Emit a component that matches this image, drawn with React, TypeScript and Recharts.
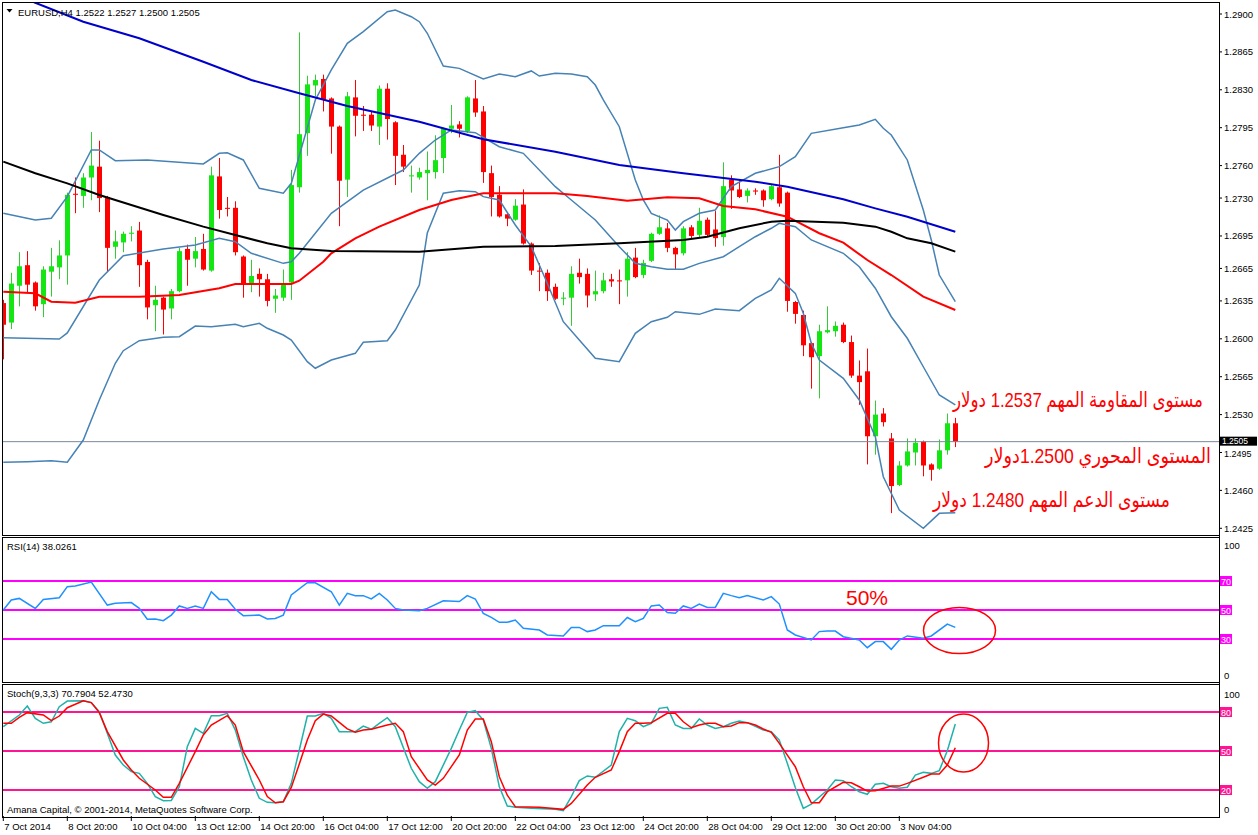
import React from 'react';
import { ComposedChart, Bar, Line, XAxis, YAxis, ReferenceLine } from 'recharts';

// ---------------- DATA ----------------
const timeLabels = ['7 Oct 2014', '8 Oct 20:00', '10 Oct 04:00', '13 Oct 12:00', '14 Oct 20:00', '16 Oct 04:00', '17 Oct 12:00', '20 Oct 20:00', '22 Oct 04:00', '23 Oct 12:00', '24 Oct 20:00', '28 Oct 04:00', '29 Oct 12:00', '30 Oct 20:00', '3 Nov 04:00'];
const timeTickBars = [0, 8, 16, 24, 32, 40, 48, 56, 64, 72, 80, 88, 96, 104, 112];

const priceTicks = [1.29, 1.2865, 1.283, 1.2795, 1.276, 1.273, 1.2695, 1.2665, 1.2635, 1.26, 1.2565, 1.253, 1.2495, 1.246, 1.2425];
const lastPrice = 1.2505;

const opens = [1.2633, 1.2615, 1.2649, 1.2668, 1.2652, 1.2632, 1.2662, 1.2666, 1.2677, 1.2734, 1.2732, 1.2749, 1.2759, 1.2731, 1.2685, 1.2689, 1.2697, 1.2700, 1.2671, 1.2631, 1.2638, 1.2628, 1.2644, 1.2683, 1.2674, 1.2683, 1.2663, 1.2750, 1.2721, 1.2721, 1.2676, 1.2651, 1.2660, 1.2655, 1.2637, 1.2638, 1.2652, 1.2740, 1.2790, 1.2834, 1.2840, 1.2822, 1.2796, 1.2747, 1.2823, 1.2807, 1.2807, 1.2796, 1.2831, 1.2800, 1.2770, 1.2750, 1.2749, 1.2753, 1.2754, 1.2767, 1.2794, 1.2798, 1.2792, 1.2822, 1.2810, 1.2753, 1.2733, 1.2715, 1.2710, 1.2724, 1.2688, 1.2663, 1.2661, 1.2648, 1.2637, 1.2638, 1.2661, 1.2660, 1.2641, 1.2644, 1.2655, 1.2654, 1.2654, 1.2675, 1.2659, 1.2672, 1.2697, 1.2702, 1.2684, 1.2679, 1.2703, 1.2696, 1.2710, 1.2701, 1.2694, 1.2747, 1.2738, 1.2732, 1.2737, 1.2737, 1.2729, 1.2740, 1.2735, 1.2634, 1.2622, 1.2596, 1.2584, 1.2606, 1.2607, 1.2613, 1.2597, 1.2566, 1.2570, 1.2510, 1.2531, 1.2508, 1.2465, 1.2483, 1.2495, 1.2505, 1.2484, 1.2480, 1.2497, 1.2522];
const highs = [1.2636, 1.2661, 1.2680, 1.2681, 1.2653, 1.2667, 1.2684, 1.2691, 1.2735, 1.2749, 1.2753, 1.2791, 1.2783, 1.2732, 1.2700, 1.2699, 1.2704, 1.2708, 1.2673, 1.2649, 1.2639, 1.2646, 1.2684, 1.2687, 1.2694, 1.2697, 1.2759, 1.2767, 1.2731, 1.2727, 1.2677, 1.2673, 1.2665, 1.2660, 1.2646, 1.2664, 1.2756, 1.2883, 1.2843, 1.2844, 1.2844, 1.2823, 1.2797, 1.2828, 1.2839, 1.2815, 1.2810, 1.2834, 1.2836, 1.2801, 1.2779, 1.2760, 1.2758, 1.2773, 1.2788, 1.2795, 1.2816, 1.2801, 1.2824, 1.2839, 1.2815, 1.2760, 1.2741, 1.2717, 1.2729, 1.2738, 1.2689, 1.2670, 1.2664, 1.2651, 1.2643, 1.2667, 1.2674, 1.2665, 1.2663, 1.2661, 1.2660, 1.2664, 1.2680, 1.2684, 1.2673, 1.2698, 1.2714, 1.2707, 1.2685, 1.2704, 1.2705, 1.2721, 1.2712, 1.2718, 1.2763, 1.2751, 1.2747, 1.2739, 1.2739, 1.2738, 1.2742, 1.2770, 1.2736, 1.2635, 1.2626, 1.2597, 1.2613, 1.2630, 1.2616, 1.2615, 1.2603, 1.2580, 1.2591, 1.2543, 1.2536, 1.2513, 1.2487, 1.2508, 1.2508, 1.2506, 1.2485, 1.2507, 1.2531, 1.2527];
const lows = [1.2581, 1.2609, 1.2630, 1.2643, 1.2626, 1.2620, 1.2639, 1.2655, 1.2650, 1.2716, 1.2721, 1.2728, 1.2717, 1.2662, 1.2674, 1.2680, 1.2690, 1.2648, 1.2618, 1.2607, 1.2604, 1.2618, 1.2643, 1.2649, 1.2666, 1.2663, 1.2662, 1.2711, 1.2713, 1.2677, 1.2638, 1.2643, 1.2639, 1.2630, 1.2624, 1.2635, 1.2636, 1.2735, 1.2769, 1.2824, 1.2810, 1.2771, 1.2704, 1.2731, 1.2787, 1.2792, 1.2792, 1.2779, 1.2784, 1.2742, 1.2754, 1.2735, 1.2747, 1.2728, 1.2748, 1.2753, 1.2790, 1.2786, 1.2790, 1.2805, 1.2744, 1.2713, 1.2712, 1.2704, 1.2709, 1.2687, 1.2659, 1.2644, 1.2635, 1.2636, 1.2631, 1.2612, 1.2651, 1.2629, 1.2635, 1.2642, 1.2648, 1.2632, 1.2639, 1.2656, 1.2656, 1.2671, 1.2696, 1.2680, 1.2664, 1.2677, 1.2693, 1.2694, 1.2694, 1.2685, 1.2686, 1.2720, 1.2730, 1.2726, 1.2733, 1.2722, 1.2728, 1.2722, 1.2625, 1.2614, 1.2584, 1.2554, 1.2545, 1.2605, 1.2602, 1.2596, 1.2564, 1.2539, 1.2484, 1.2493, 1.2519, 1.2439, 1.2464, 1.2482, 1.2483, 1.2473, 1.2469, 1.2479, 1.2493, 1.2500];
const closes = [1.2613, 1.2651, 1.2667, 1.2650, 1.2630, 1.2664, 1.2667, 1.2677, 1.2733, 1.2733, 1.2749, 1.2760, 1.2730, 1.2684, 1.2690, 1.2697, 1.2698, 1.2668, 1.2629, 1.2636, 1.2627, 1.2644, 1.2681, 1.2673, 1.2681, 1.2664, 1.2751, 1.2719, 1.2720, 1.2680, 1.2651, 1.2658, 1.2655, 1.2635, 1.2640, 1.2651, 1.2742, 1.2789, 1.2835, 1.2839, 1.2821, 1.2796, 1.2746, 1.2824, 1.2806, 1.2806, 1.2797, 1.2831, 1.2803, 1.2769, 1.2759, 1.2751, 1.2754, 1.2756, 1.2765, 1.2794, 1.2797, 1.2794, 1.2823, 1.2809, 1.2754, 1.2731, 1.2713, 1.2711, 1.2723, 1.2688, 1.2663, 1.2662, 1.2644, 1.2637, 1.2638, 1.2660, 1.2657, 1.2640, 1.2644, 1.2654, 1.2653, 1.2653, 1.2674, 1.2657, 1.2670, 1.2697, 1.2703, 1.2684, 1.2678, 1.2702, 1.2695, 1.2709, 1.2696, 1.2693, 1.2741, 1.2737, 1.2731, 1.2737, 1.2736, 1.2728, 1.2741, 1.2725, 1.2635, 1.2623, 1.2594, 1.2583, 1.2607, 1.2608, 1.2612, 1.2597, 1.2566, 1.2560, 1.2510, 1.2530, 1.2523, 1.2464, 1.2483, 1.2496, 1.2504, 1.2483, 1.2479, 1.2497, 1.2522, 1.2505];

// Indicator lines: [bar index, value] read at the visible vertices
const maBlue: [number, number][] = [[0, 1.29222], [4, 1.29104], [10, 1.28929], [17, 1.28776], [25, 1.28559], [31, 1.2839], [37, 1.28268], [43, 1.2815], [52, 1.28005], [60, 1.27843], [69, 1.27728], [77, 1.27605], [85, 1.27529], [94, 1.27451], [98, 1.27405], [105, 1.27289], [109, 1.27205], [113, 1.27128], [119, 1.26989]];
const maBlack: [number, number][] = [[0, 1.27636], [4, 1.27529], [8, 1.27436], [12, 1.27328], [16, 1.27236], [20, 1.27144], [25, 1.27036], [29, 1.26959], [33, 1.26882], [36, 1.26836], [41, 1.26811], [52, 1.26805], [60, 1.26851], [69, 1.26857], [77, 1.26882], [85, 1.26913], [88, 1.26943], [92, 1.27021], [96, 1.27082], [98, 1.27091], [105, 1.27072], [109, 1.27036], [111, 1.26989], [113, 1.26928], [116, 1.26882], [119, 1.26805]];
const maRed: [number, number][] = [[0, 1.26435], [4, 1.2642], [6, 1.26343], [9, 1.26334], [12, 1.26389], [17, 1.26389], [22, 1.26405], [27, 1.26467], [29, 1.26506], [36, 1.26506], [37, 1.26537], [40, 1.26712], [41, 1.2679], [44, 1.26928], [47, 1.27036], [52, 1.2719], [56, 1.27282], [60, 1.27344], [69, 1.27344], [73, 1.27319], [78, 1.27276], [83, 1.27307], [87, 1.27298], [90, 1.27227], [94, 1.27196], [98, 1.27128], [102, 1.26975], [105, 1.26888], [108, 1.26728], [111, 1.26589], [115, 1.26389], [119, 1.26266]];
const bbUpper: [number, number][] = [[0, 1.27159], [4, 1.27097], [6, 1.27113], [8, 1.27313], [11, 1.27744], [12, 1.27744], [14, 1.27645], [18, 1.27652], [25, 1.27615], [27, 1.27713], [28, 1.27719], [30, 1.27652], [32, 1.2739], [35, 1.27344], [36, 1.27436], [39, 1.28206], [41, 1.28483], [43, 1.28729], [45, 1.28837], [48, 1.29021], [49, 1.29037], [51, 1.28975], [52, 1.28929], [53, 1.28822], [55, 1.2852], [57, 1.28498], [60, 1.284], [62, 1.28446], [64, 1.28421], [66, 1.28474], [67, 1.28427], [69, 1.28452], [71, 1.28446], [73, 1.28421], [74, 1.28344], [75, 1.28206], [77, 1.27959], [79, 1.27467], [80, 1.27282], [81, 1.27159], [83, 1.27097], [84, 1.27005], [85, 1.27082], [87, 1.27159], [89, 1.2719], [91, 1.27405], [94, 1.27529], [97, 1.2759], [99, 1.27682], [101, 1.27898], [105, 1.2795], [107, 1.27975], [109, 1.28027], [110, 1.27944], [111, 1.27882], [113, 1.27652], [115, 1.2719], [116, 1.26913], [117, 1.26589], [119, 1.26343]];
const bbMiddle: [number, number][] = [[0, 1.2601], [7, 1.25998], [8, 1.26054], [12, 1.26543], [15, 1.26768], [20, 1.2683], [24, 1.26867], [27, 1.26928], [29, 1.26897], [31, 1.2679], [35, 1.26697], [36, 1.26712], [37, 1.2679], [41, 1.27159], [45, 1.27374], [50, 1.27559], [52, 1.27713], [54, 1.27836], [56, 1.27929], [59, 1.27904], [62, 1.27774], [65, 1.27713], [69, 1.27405], [71, 1.27282], [74, 1.27097], [77, 1.26851], [79, 1.26697], [81, 1.26666], [83, 1.26642], [85, 1.26642], [87, 1.26697], [90, 1.26758], [92, 1.26851], [94, 1.26943], [96, 1.27021], [97, 1.27067], [99, 1.27036], [101, 1.26913], [105, 1.2679], [107, 1.26666], [109, 1.26467], [111, 1.26204], [113, 1.26005], [115, 1.25742], [117, 1.25481], [119, 1.25389]];
const bbLower: [number, number][] = [[0, 1.2486], [3, 1.24865], [6, 1.24874], [8, 1.2486], [10, 1.25065], [12, 1.25435], [14, 1.25774], [15, 1.2589], [17, 1.25983], [20, 1.26014], [22, 1.2602], [24, 1.26118], [26, 1.26112], [29, 1.26134], [30, 1.26112], [32, 1.26143], [33, 1.26097], [35, 1.26035], [36, 1.25989], [38, 1.25789], [39, 1.25728], [41, 1.25804], [44, 1.25866], [45, 1.25968], [48, 1.25983], [49, 1.26081], [52, 1.26497], [53, 1.26977], [55, 1.27344], [57, 1.27368], [59, 1.27359], [60, 1.27313], [62, 1.27282], [64, 1.27051], [66, 1.26851], [68, 1.26513], [70, 1.26158], [72, 1.25989], [74, 1.2582], [77, 1.25789], [79, 1.26051], [81, 1.26158], [83, 1.26199], [84, 1.2625], [87, 1.26226], [89, 1.26275], [92, 1.2626], [94, 1.26374], [96, 1.26451], [97, 1.26559], [99, 1.2642], [100, 1.26236], [101, 1.25959], [102, 1.25804], [105, 1.25635], [107, 1.25435], [109, 1.25096], [110, 1.24726], [112, 1.24419], [115, 1.2425], [117, 1.24388], [119, 1.24394]];

const rsi14: [number, number][] = [[0, 50], [1, 56.9], [2, 58], [4, 51.1], [5, 57.3], [7, 58.5], [8, 66.1], [9, 66.5], [11, 69.3], [13, 53.4], [14, 54.6], [16, 55.1], [17, 51.1], [18, 43.6], [19, 43.8], [20, 42.6], [21, 46.5], [22, 52.8], [23, 51.1], [24, 52.8], [25, 51.1], [26, 62.6], [27, 57.3], [28, 57.3], [29, 50.5], [30, 46.1], [32, 46.5], [33, 43.8], [34, 44.2], [35, 46.5], [36, 60.4], [38, 68.8], [39, 68.8], [41, 62.6], [42, 53.4], [43, 61.5], [44, 59.9], [45, 59.9], [46, 57.6], [47, 61.5], [48, 56.9], [49, 51.1], [50, 50], [52, 49.5], [53, 51.1], [55, 56.4], [57, 55.8], [58, 59.9], [59, 57.6], [60, 47.7], [61, 44.9], [62, 41.5], [63, 41.5], [64, 43.1], [65, 37.4], [67, 36.2], [68, 32.8], [70, 32.1], [71, 38], [72, 38], [73, 35.1], [74, 36.2], [75, 39.2], [77, 39.2], [78, 44.8], [79, 41.9], [80, 44.2], [81, 52.8], [82, 53.4], [83, 48.2], [84, 47.7], [85, 52.8], [86, 51.1], [87, 54.1], [88, 51.8], [89, 51.8], [90, 61.5], [91, 59.9], [92, 58.5], [93, 59.9], [95, 56.9], [96, 59.2], [97, 54.1], [98, 36.2], [99, 32.8], [101, 29.3], [102, 35.1], [103, 35.5], [104, 35.5], [105, 31.6], [107, 29.3], [108, 24], [109, 28.2], [110, 28.2], [111, 22.9], [112, 29.3], [113, 32.1], [115, 30.5], [116, 32.1], [118, 40.3], [119, 38.0261]];
const stochMain: [number, number][] = [[0, 68.7], [2, 77.7], [3, 84.6], [4, 75.1], [5, 71.3], [6, 72.5], [7, 84.1], [8, 88.4], [10, 88.7], [11, 87.2], [12, 80.2], [13, 63.6], [14, 46.9], [15, 39.2], [16, 34.1], [17, 32.8], [18, 25.1], [19, 14.9], [20, 11.8], [21, 12], [22, 22.5], [23, 53.3], [24, 67.4], [25, 63.6], [26, 77.2], [27, 77.2], [28, 79], [29, 66.1], [30, 45.6], [31, 27.7], [32, 13.6], [33, 10.5], [34, 10.2], [35, 11], [36, 25.1], [37, 50.8], [38, 76.9], [39, 76.9], [40, 79], [41, 75.1], [42, 64.9], [43, 64.9], [44, 64.9], [45, 69.2], [46, 66.7], [47, 71.3], [48, 75.6], [49, 68.7], [51, 36.7], [52, 26.4], [53, 21.3], [54, 26.4], [56, 52], [57, 66.1], [58, 79.7], [59, 81], [60, 73.8], [61, 52], [62, 22.5], [63, 7.7], [64, 6.7], [66, 5.9], [69, 5.1], [70, 4.1], [71, 14.9], [72, 27.2], [73, 30.8], [74, 29.8], [76, 39.2], [77, 64.9], [78, 75.1], [79, 73.3], [80, 68.7], [81, 71.3], [82, 82.8], [83, 83.6], [84, 70], [85, 67.4], [86, 67.4], [87, 74.6], [88, 70], [89, 67.4], [90, 68.7], [91, 71.3], [92, 73], [93, 71.8], [95, 66.1], [96, 64.9], [97, 58.4], [98, 40.5], [99, 22], [100, 5.9], [101, 9.2], [103, 20], [104, 27.7], [105, 27.2], [106, 22.5], [107, 18.7], [108, 16.7], [109, 24.4], [110, 25.1], [111, 22.5], [112, 21.3], [113, 22.1], [114, 31.5], [115, 33.6], [116, 32.8], [117, 34.9], [118, 50.2], [119, 70.7904]];
const stochSignal: [number, number][] = [[0, 71.3], [1, 71.3], [2, 75.9], [3, 79.5], [5, 77.7], [6, 73.3], [7, 76.9], [8, 83.3], [10, 88.7], [11, 87.2], [12, 79.5], [13, 64.9], [15, 43.1], [16, 35.4], [17, 29], [19, 20], [20, 14.4], [21, 14.4], [22, 25.1], [24, 49.5], [25, 62.3], [26, 70], [28, 77.2], [29, 70], [30, 49.5], [32, 27.7], [33, 14.9], [34, 10.2], [35, 11], [36, 22], [37, 40], [38, 58.4], [39, 73.3], [40, 78.4], [41, 76.9], [42, 72], [43, 67], [44, 64.4], [45, 66.1], [46, 66.7], [48, 70], [49, 71.3], [50, 64.9], [51, 45.6], [53, 27.7], [54, 23.8], [55, 29], [57, 46.9], [58, 66.1], [59, 74.6], [60, 74.6], [61, 57.2], [62, 30.2], [63, 16], [64, 7.2], [67, 6.7], [70, 5.1], [71, 9.7], [73, 23.8], [74, 29.8], [76, 35.4], [77, 49.5], [78, 64.8], [79, 71.3], [80, 71.3], [81, 71.8], [83, 79], [84, 79], [85, 72.5], [86, 67.9], [87, 70], [88, 71.3], [89, 71.3], [90, 68.7], [91, 69.2], [92, 71.8], [93, 71.8], [94, 70], [95, 66.9], [96, 64.4], [97, 55.9], [99, 37.9], [100, 22.5], [101, 10.2], [102, 10.2], [103, 18.7], [105, 25.9], [106, 25.6], [107, 22.5], [108, 19.2], [109, 19.5], [111, 23], [112, 23], [113, 25.1], [115, 29.8], [116, 32.3], [117, 32.3], [118, 39.2], [119, 52.473]];

const rsiLevels = [70, 50, 30];
const stochLevels = [80, 50, 20];

// ---------------- TABLE ----------------
type Row = { [k: string]: any };
const rows: Row[] = opens.map((o, i) => ({ i, o, h: highs[i], l: lows[i], c: closes[i], range: [lows[i], highs[i]] }));
const put = (key: string, pts: [number, number][]) => pts.forEach(([i, v]) => { rows[i][key] = v; });
put('maBlue', maBlue); put('maBlack', maBlack); put('maRed', maRed);
put('bbU', bbUpper); put('bbM', bbMiddle); put('bbL', bbLower);
put('rsi', rsi14); put('k', stochMain); put('d', stochSignal);

// ---------------- STYLE ----------------
const FONT = "'Liberation Sans', Arial, sans-serif";
const AR_FONT = "'Liberation Sans', 'DejaVu Sans', sans-serif";
const X_DOMAIN: [number, number] = [-0.1625, 151.9625];
const MAIN_DOMAIN: [number, number] = [1.241972, 1.291016];
const BULL = '#14E614';
const BULL_WICK = '#32CD32';
const BEAR = '#FF0000';
const BB = '#4682B4';

const Candle = (props: any) => {
  const { x, y, width, height, payload } = props;
  if (!payload || payload.h == null) return null;
  const { o, h, l, c } = payload;
  const top = Math.min(y, y + height);
  const bot = Math.max(y, y + height);
  const py = (v: number) => top + ((h - v) / (h - l)) * (bot - top);
  const cx = Math.round(x + width / 2);
  const bull = c > o;
  const body = bull ? BULL : BEAR;
  const wick = bull ? BULL_WICK : BEAR;
  const yo = py(o), yc = py(c);
  const bt = Math.min(yo, yc), bb = Math.max(yo, yc);
  return (
    <g>
      <line x1={cx + 0.5} x2={cx + 0.5} y1={top} y2={bot} stroke={wick} strokeWidth={1} />
      <rect x={cx - 2} y={bt} width={5} height={Math.max(1, bb - bt)} fill={body} />
    </g>
  );
};

const PriceTick = (p: any) => {
  const v = Number(p.payload.value);
  const nearTag = Math.abs(v - lastPrice) < 0.0015;
  return (
    <text x={1224} y={p.y} dy={nearTag ? 5 : 3.5} fontSize={nearTag ? 9 : 9.5} fontFamily={FONT} fill="#000" textAnchor="start">{v.toFixed(4)}</text>
  );
};

const EdgeTick = (p: any) => {
  const v = p.payload.value;
  const dy = v === 100 ? 11.5 : -3.5;
  return <text x={1224} y={p.y} dy={dy} fontSize={9.5} fontFamily={FONT} fill="#000" textAnchor="start">{v}</text>;
};

const LevelTag = (p: any) => {
  const vb = p.viewBox || {};
  const x = (vb.x || 0) + (vb.width || 0);
  const y = vb.y || 0;
  return (
    <g>
      <rect x={x + 1} y={y - 5} width={12} height={10} fill={p.fill} />
      <text x={x + 2} y={y + 3.5} fontSize={9} fontFamily={FONT} fill="#fff">{p.text}</text>
    </g>
  );
};

const PriceTag = (p: any) => {
  const vb = p.viewBox || {};
  const x = (vb.x || 0) + (vb.width || 0);
  const y = vb.y || 0;
  return (
    <g>
      <rect x={x + 1} y={y - 5} width={37} height={9} fill="#000" />
      <text x={x + 3} y={y + 2} fontSize={8.5} fontFamily={FONT} fill="#fff">{lastPrice.toFixed(4)}</text>
    </g>
  );
};

const TimeTick = (p: any) => {
  const idx = timeTickBars.indexOf(p.payload.value);
  return <text x={p.x + 1} y={p.y} dy={7} fontSize={9.5} fontFamily={FONT} fill="#000" textAnchor="start">{timeLabels[idx]}</text>;
};

const line = (key: string, color: string, w: number) => (
  <Line key={key} type="linear" dataKey={key} stroke={color} strokeWidth={w} dot={false} activeDot={false} connectNulls isAnimationActive={false} />
);

export default function App() {
  return (
    <div style={{ position: 'absolute', left: 0, top: 0, width: 1258, height: 835, background: '#fff', overflow: 'hidden' }}>
      <div style={{ position: 'absolute', left: 0, top: 0 }}>
        <ComposedChart width={1258} height={536} data={rows} margin={{ top: 3, right: 0, bottom: 2, left: 2 }}>
          <XAxis dataKey="i" type="number" domain={X_DOMAIN} allowDataOverflow hide />
          <YAxis orientation="right" width={39} type="number" domain={MAIN_DOMAIN} allowDataOverflow ticks={priceTicks} interval={0} tick={<PriceTick />} tickSize={3} tickMargin={2} axisLine={false} tickLine={{ stroke: '#000' }} />
          <ReferenceLine y={lastPrice} stroke="#778899" strokeWidth={1} label={<PriceTag />} />
          <Bar dataKey="range" barSize={5} shape={Candle} isAnimationActive={false} />
          {line('bbU', BB, 1.5)}
          {line('bbM', BB, 1.5)}
          {line('bbL', BB, 1.5)}
          {line('maRed', '#FF0000', 2)}
          {line('maBlack', '#000000', 2)}
          {line('maBlue', '#0000CD', 2)}
        </ComposedChart>
      </div>
      <div style={{ position: 'absolute', left: 0, top: 537 }}>
        <ComposedChart width={1258} height={146} data={rows} margin={{ top: 0.5, right: 0, bottom: 0.5, left: 2 }}>
          <XAxis dataKey="i" type="number" domain={X_DOMAIN} allowDataOverflow hide />
          <YAxis orientation="right" width={39} type="number" domain={[0, 100]} allowDataOverflow ticks={[0, 100]} interval={0} tick={<EdgeTick />} axisLine={false} tickLine={false} />
          {rsiLevels.map((v) => (
            <ReferenceLine key={v} y={v} stroke="#FF00FF" strokeWidth={2} label={<LevelTag text={String(v)} fill="#FF00FF" />} />
          ))}
          {line('rsi', '#1E90FF', 1.5)}
        </ComposedChart>
      </div>
      <div style={{ position: 'absolute', left: 0, top: 684 }}>
        <ComposedChart width={1258} height={151} data={rows} margin={{ top: 2, right: 0, bottom: 0, left: 2 }}>
          <XAxis dataKey="i" type="number" domain={X_DOMAIN} allowDataOverflow ticks={timeTickBars} interval={0} height={19} tick={<TimeTick />} tickSize={5} tickMargin={2} axisLine={false} tickLine={{ stroke: '#000' }} />
          <YAxis orientation="right" width={39} type="number" domain={[0, 100]} allowDataOverflow ticks={[0, 100]} interval={0} tick={<EdgeTick />} axisLine={false} tickLine={false} />
          {stochLevels.map((v) => (
            <ReferenceLine key={v} y={v} stroke="#FF1493" strokeWidth={2} label={<LevelTag text={String(v)} fill="#FF1493" />} />
          ))}
          {line('k', '#20B2AA', 1.5)}
          {line('d', '#FF0000', 1.5)}
        </ComposedChart>
      </div>
      <svg width={1258} height={835} style={{ position: 'absolute', left: 0, top: 0, pointerEvents: 'none' }}>
        <rect x={2.5} y={2.5} width={1217} height={533} fill="none" stroke="#000" strokeWidth={1} />
        <rect x={2.5} y={537.5} width={1217} height={145} fill="none" stroke="#000" strokeWidth={1} />
        <rect x={2.5} y={684.5} width={1217} height={133} fill="none" stroke="#000" strokeWidth={1} />
        <line x1={1219.5} x2={1219.5} y1={2} y2={818} stroke="#000" strokeWidth={1} />
        <polygon points="6.5,9 12.5,9 9.5,12.5" fill="#000" />
        <text x={18} y={15.5} fontSize={9.5} fontFamily={FONT} fill="#000">EURUSD,H4  1.2522 1.2527 1.2500 1.2505</text>
        <text x={7} y={550} fontSize={9.5} fontFamily={FONT} fill="#000">RSI(14) 38.0261</text>
        <text x={7} y={697} fontSize={9.5} fontFamily={FONT} fill="#000">Stoch(9,3,3) 70.7904 52.4730</text>
        <text x={7} y={812.5} fontSize={9.5} fontFamily={FONT} fill="#000">Amana Capital, © 2001-2014, MetaQuotes Software Corp.</text>
        <text x={953} y={406.5} fontSize={21} fontFamily={AR_FONT} fill="#FF0000" textAnchor="start" textLength={250} lengthAdjust="spacingAndGlyphs">مستوى المقاومة المهم 1.2537 دولار</text>
        <text x={985} y={463} fontSize={21} fontFamily={AR_FONT} fill="#FF0000" textAnchor="start" textLength={226} lengthAdjust="spacingAndGlyphs">المستوى المحوري 1.2500دولار</text>
        <text x={933} y={507} fontSize={21} fontFamily={AR_FONT} fill="#FF0000" textAnchor="start" textLength={237} lengthAdjust="spacingAndGlyphs">مستوى الدعم المهم 1.2480 دولار</text>
        <text x={846} y={605} fontSize={21} fontFamily={FONT} fill="#FF0000">50%</text>
        <ellipse cx={959.5} cy={630.5} rx={36} ry={23} fill="none" stroke="#FF0000" strokeWidth={1.5} />
        <ellipse cx={963.5} cy={743} rx={25} ry={29} fill="none" stroke="#FF0000" strokeWidth={1.5} />
      </svg>
    </div>
  );
}
